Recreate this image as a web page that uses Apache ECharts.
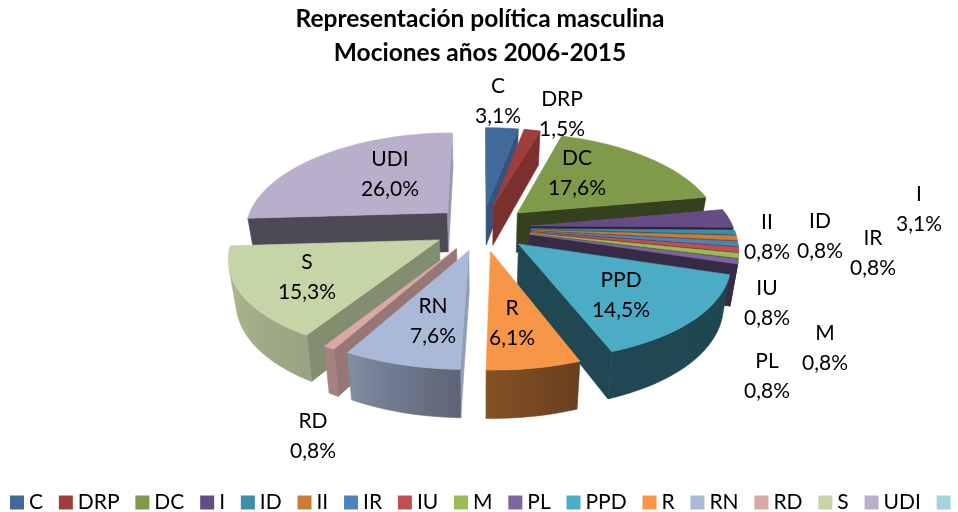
<!DOCTYPE html>
<html><head><meta charset="utf-8">
<style>html,body{margin:0;padding:0;background:#fff}#c{width:958px;height:512px}</style>
<script src="https://cdn.jsdelivr.net/npm/echarts@6/dist/echarts.min.js"></script>
</head><body><div id="c"></div>
<script>
const categories = ['C','DRP','DC','I','ID','II','IR','IU','M','PL','PPD','R','RN','RD','S','UDI',' '];
const counts = [4,2,23,4,1,1,1,1,1,1,19,8,10,1,20,34,0];
const colors = ['#41699A','#9E3D3B','#7F9A48','#664C85','#3A8EA5','#CC7C34','#4F81BD','#C0504D','#9BBB59','#8064A2','#4BACC6','#F79646','#AAB9D7','#D9A9A8','#C6D5A8','#B9AFCA','#A5D2E0'];
const titleLines = ['Representación política masculina','Mociones años 2006-2015'];

// view of the tilted pie
const view = {cx:482, cy:228, R:203, qR:95, px:.16, py:.14, explode:.24, h:40, shrink:.03};
const wallShade = {S:.66, RD:.7, RN:.85, C:.8, DRP:.78};
const endWallShade = {UDI:.85};
const rimStops = [[0,.5],[107,.41],[159,.42],[181,.54],[209,.76],[266,.9],[360,.9]];
const labelAt = {C:[498,101],DRP:[562,114],DC:[577,173],I:[919,209],ID:[820,236],II:[767,237],IR:[873,253],IU:[767,303],M:[825,348],PL:[767,376],PPD:[621,295],R:[512,323],RN:[433,321],RD:[313,436],S:[307,277],UDI:[390,174]};

const total = counts.reduce((a,b)=>a+b,0);
const rad = d => d*Math.PI/180;
const starts = []; counts.reduce((a,v,i)=>(starts[i]=a, a+v),0);
const project = (u,v,d) => {
  const sx = 1/(1-view.px*v), sy = 1/(1-view.py*v), k = 1-view.shrink*d;
  return [view.cx + view.R*u*sx*k, view.cy + view.qR*v*sy + view.h*d*sy];
};
const area = p => p.reduce((s,a,i)=>{const b=p[(i+1)%p.length];return s+a[0]*b[1]-b[0]*a[1];},0);
const shade = (hex,f) => {
  const n = parseInt(hex.slice(1),16);
  return 'rgb('+[n>>16,(n>>8)&255,n&255].map(c=>Math.round(c*f)).join(',')+')';
};
const rimShade = t => {
  for (let i=1;i<rimStops.length;i++){
    const [a,fa]=rimStops[i-1],[b,fb]=rimStops[i];
    if (t<=b) return fa+(fb-fa)*(t-a)/(b-a);
  }
  return .9;
};

function sliceItem(i, value){
  if (!value) return {type:'group',children:[]};
  const a = starts[i]/total*360, b = (starts[i]+value)/total*360, m=(a+b)/2;
  const eu = view.explode*Math.sin(rad(m)), ev = -view.explode*Math.cos(rad(m));
  const P = (t,d) => project(eu+Math.sin(rad(t)), ev-Math.cos(rad(t)), d);
  const A = d => project(eu, ev, d);
  const name = categories[i], col = colors[i];
  const wf = wallShade[name] || .42, ef = endWallShade[name] || wf;
  const kids = [];
  const poly = (pts,fill) => kids.push({type:'polygon',shape:{points:pts},style:{fill,stroke:fill,lineWidth:.6}});
  const w1 = [A(0),P(a,0),P(a,1),A(1)], w2 = [A(0),P(b,0),P(b,1),A(1)];
  if (area(w1)<0) poly(w1,shade(col,wf));
  if (area(w2)>0) poly(w2,shade(col,ef));
  const n = Math.max(2,Math.ceil((b-a)/2));
  const top = [A(0)], upper = [], lower = [], angles = [];
  for (let k=0;k<=n;k++){
    const t=a+(b-a)*k/n; top.push(P(t,0));
    if (k<n){
      const t2=a+(b-a)*(k+1)/n, q=[P(t,0),P(t2,0),P(t2,1),P(t,1)];
      if (area(q)<0){
        if(!upper.length){upper.push(q[0]);lower.push(q[3]);angles.push(t);}
        upper.push(q[1]);lower.push(q[2]);angles.push(t2);
      }
    }
  }
  if (upper.length){
    const x0=upper[0][0], x1=upper[upper.length-1][0], span=(x1-x0)||1;
    const stops=[];
    angles.forEach((t,k)=>stops.push({offset:Math.min(1,Math.max(0,(upper[k][0]-x0)/span)),color:shade(col,rimShade(t))}));
    const fill={type:'linear',x:x0,y:0,x2:x1,y2:0,global:true,colorStops:stops};
    kids.push({type:'polygon',shape:{points:upper.concat(lower.slice().reverse())},style:{fill,stroke:fill,lineWidth:.6}});
  }
  poly(top,col);
  return {type:'group',children:kids};
}

const sliceSeries = categories.map((name,i)=>{
  const m = (starts[i]+counts[i]/2)/total*360;
  return {name, type:'custom', coordinateSystem:'none', data:[[counts[i]]], silent:true,
    z: 10+(1-Math.cos(rad(m)))*20,
    dimensions:['value'], encode:{value:0},
    renderItem:(p,api)=>sliceItem(i,api.value(0))};
});
const labelSeries = {name:'labels', type:'custom', coordinateSystem:'none', silent:true, z:100,
  data:counts.map(v=>[v]),
  renderItem:(p,api)=>{
    const i=p.dataIndex, v=api.value(0), name=categories[i];
    if(!v) return {type:'group',children:[]};
    const [x,y]=labelAt[name];
    return {type:'text',style:{text:name+'\n'+(v/total*100).toFixed(1).replace('.',',')+'%',x,y,align:'center',verticalAlign:'middle',
      font:'21px Lato',lineHeight:30,fill:'#000'}};
  }};

const chart = echarts.init(document.getElementById('c'),null,{renderer:'canvas'});
chart.setOption({
  animation:false,
  color:colors,
  title:{text:titleLines.join('\n'),left:475,top:-3,textAlign:'center',
    textStyle:{fontFamily:'Lato',fontWeight:'bold',fontSize:24.5,lineHeight:34,color:'#000'}},
  legend:{data:categories,left:10,top:492,width:1100,itemWidth:14,itemHeight:14,itemGap:15.8,icon:'rect',padding:0,
    textStyle:{fontFamily:'Lato',fontSize:21,color:'#000'},selectedMode:false},
  series:[...sliceSeries,labelSeries]
});
</script></body></html>
